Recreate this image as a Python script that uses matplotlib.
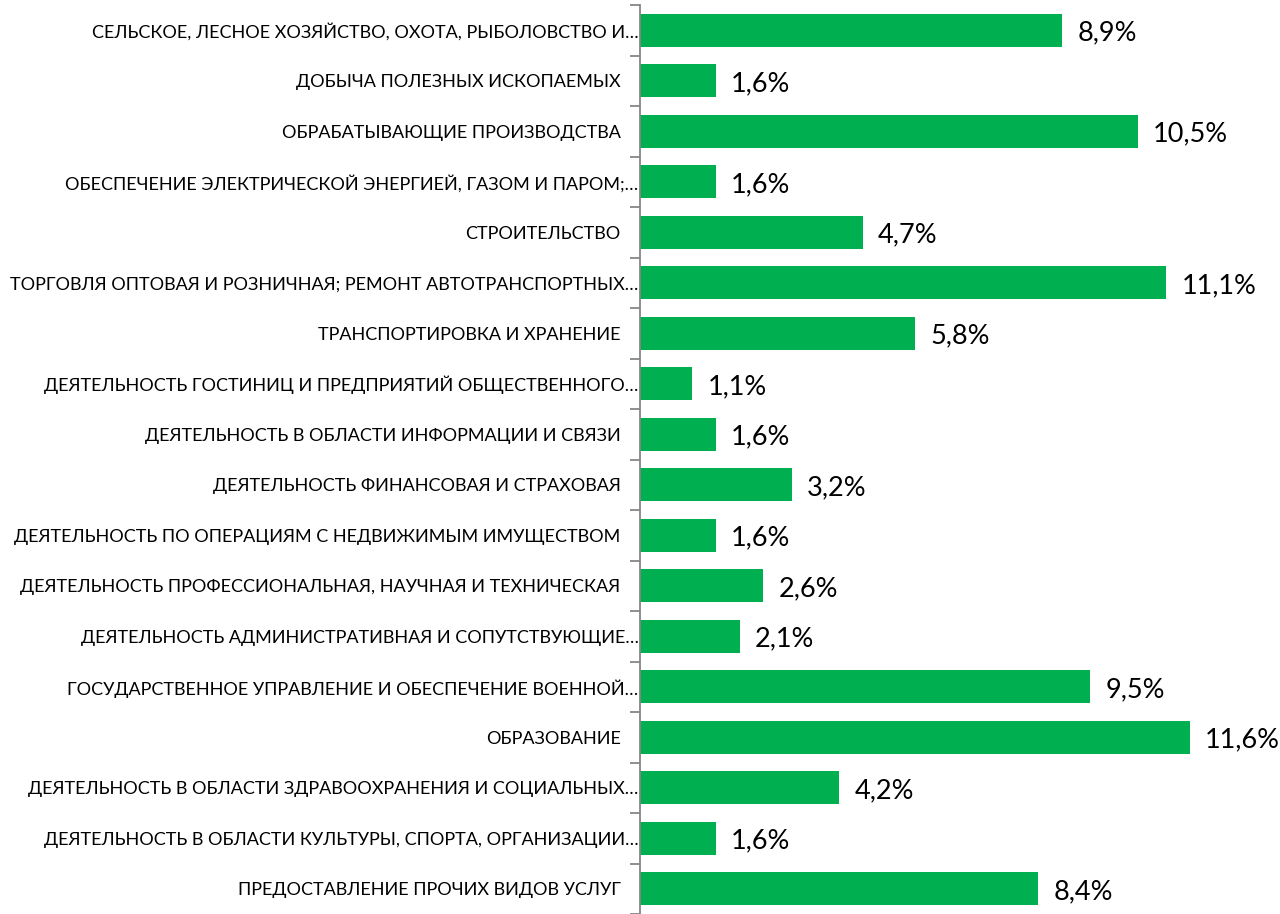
import matplotlib.pyplot as plt
import matplotlib.transforms as mtransforms
import numpy as np

plt.rcParams['font.family'] = ['Lato', 'DejaVu Sans']

# Data
categories = [
    'СЕЛЬСКОЕ, ЛЕСНОЕ ХОЗЯЙСТВО, ОХОТА, РЫБОЛОВСТВО И…',
    'ДОБЫЧА ПОЛЕЗНЫХ ИСКОПАЕМЫХ',
    'ОБРАБАТЫВАЮЩИЕ ПРОИЗВОДСТВА',
    'ОБЕСПЕЧЕНИЕ ЭЛЕКТРИЧЕСКОЙ ЭНЕРГИЕЙ, ГАЗОМ И ПАРОМ;…',
    'СТРОИТЕЛЬСТВО',
    'ТОРГОВЛЯ ОПТОВАЯ И РОЗНИЧНАЯ; РЕМОНТ АВТОТРАНСПОРТНЫХ…',
    'ТРАНСПОРТИРОВКА И ХРАНЕНИЕ',
    'ДЕЯТЕЛЬНОСТЬ ГОСТИНИЦ И ПРЕДПРИЯТИЙ ОБЩЕСТВЕННОГО…',
    'ДЕЯТЕЛЬНОСТЬ В ОБЛАСТИ ИНФОРМАЦИИ И СВЯЗИ',
    'ДЕЯТЕЛЬНОСТЬ ФИНАНСОВАЯ И СТРАХОВАЯ',
    'ДЕЯТЕЛЬНОСТЬ ПО ОПЕРАЦИЯМ С НЕДВИЖИМЫМ ИМУЩЕСТВОМ',
    'ДЕЯТЕЛЬНОСТЬ ПРОФЕССИОНАЛЬНАЯ, НАУЧНАЯ И ТЕХНИЧЕСКАЯ',
    'ДЕЯТЕЛЬНОСТЬ АДМИНИСТРАТИВНАЯ И СОПУТСТВУЮЩИЕ…',
    'ГОСУДАРСТВЕННОЕ УПРАВЛЕНИЕ И ОБЕСПЕЧЕНИЕ ВОЕННОЙ…',
    'ОБРАЗОВАНИЕ',
    'ДЕЯТЕЛЬНОСТЬ В ОБЛАСТИ ЗДРАВООХРАНЕНИЯ И СОЦИАЛЬНЫХ…',
    'ДЕЯТЕЛЬНОСТЬ В ОБЛАСТИ КУЛЬТУРЫ, СПОРТА, ОРГАНИЗАЦИИ…',
    'ПРЕДОСТАВЛЕНИЕ ПРОЧИХ ВИДОВ УСЛУГ',
]
values = [8.9, 1.6, 10.5, 1.6, 4.7, 11.1, 5.8, 1.1, 1.6, 3.2,
          1.6, 2.6, 2.1, 9.5, 11.6, 4.2, 1.6, 8.4]

fig = plt.figure(figsize=(12.8, 9.14), dpi=100)
ax = fig.add_axes([640 / 1280, 0, 640 / 1280, 909 / 914])

y = np.arange(len(categories))
ax.barh(y, values, height=0.66, color='#00B050')

for yi, v in zip(y, values):
    ax.annotate(f'{v:.1f}%'.replace('.', ','), (v, yi), xytext=(11, -2),
                textcoords='offset points', va='center', ha='left',
                fontsize=19.5, color='black')

ax.set_ylim(len(categories) - 0.5, -0.5)
ax.set_xlim(0, 13.5)
ax.set_yticks(y)
ax.set_yticklabels(categories, fontsize=13)
ax.set_yticks(np.arange(len(categories) + 1) - 0.5, minor=True)
ax.tick_params(axis='y', which='major', length=0, pad=1)
ax.tick_params(axis='y', which='minor', length=7, color='#868686', width=1.3)
ax.set_xticks([])

# full (non-truncated) names sit a bit further from the axis
shift = mtransforms.ScaledTranslation(-18 / 100, 0, fig.dpi_scale_trans)
for lab in ax.get_yticklabels():
    if not lab.get_text().endswith('…'):
        lab.set_transform(lab.get_transform() + shift)

for side in ['top', 'right', 'bottom']:
    ax.spines[side].set_visible(False)
ax.spines['left'].set_color('#868686')
ax.spines['left'].set_linewidth(1.3)

fig.savefig('out.png', dpi=100)
